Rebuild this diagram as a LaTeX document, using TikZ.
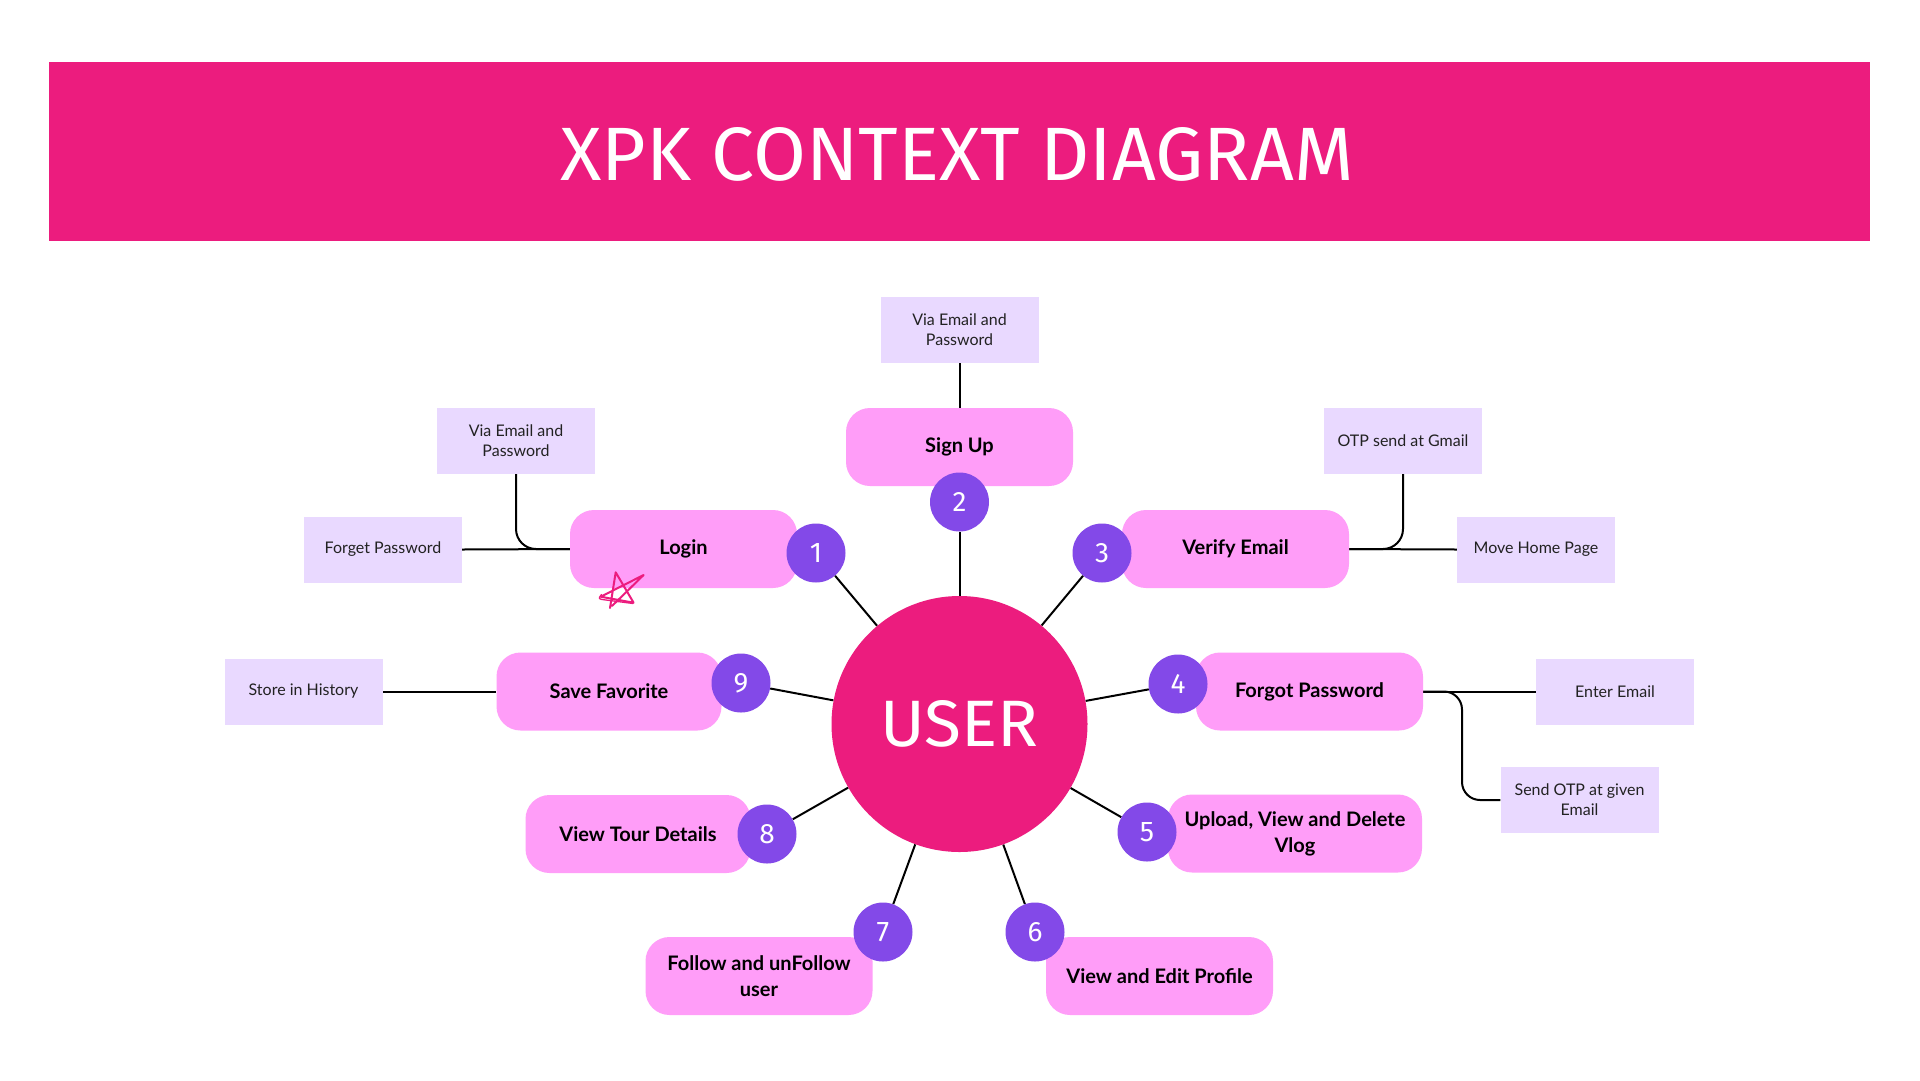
\documentclass[tikz,border=0pt]{standalone}
\usepackage{fontspec}
\setmainfont{Lato}
\newfontfamily\titlefont{Fira Sans}
\usetikzlibrary{backgrounds}
\definecolor{banner}{RGB}{236,28,126}
\definecolor{pinkbox}{RGB}{255,157,248}
\definecolor{purp}{RGB}{131,73,232}
\definecolor{lav}{RGB}{233,217,255}
\definecolor{notetext}{RGB}{34,34,34}
\newcommand\numtxt[1]{\resizebox{!}{19pt}{\titlefont #1}}
\begin{document}
\begin{tikzpicture}[x=1pt,y=-1pt,
  proc/.style={fill=pinkbox, rounded corners=24pt, minimum width=227pt, minimum height=78pt, inner sep=0pt, align=center, font=\fontsize{20}{26}\selectfont\bfseries},
  num/.style={circle, fill=purp, minimum size=59pt, inner sep=0pt, text=white},
  note/.style={fill=lav, minimum width=158pt, minimum height=66pt, inner sep=0pt, align=center, font=\fontsize{16}{20}\selectfont, text=notetext},
  link/.style={line width=2pt, black}]
\useasboundingbox (0,0) rectangle (1920,1080);

% banner
\fill[banner] (49,62) rectangle (1870,241);
\node[inner sep=0pt, text=white] (title) at (957,154.5) {\resizebox{793pt}{53pt}{\titlefont XPK CONTEXT DIAGRAM}};

% centre
\node[circle, fill=banner, minimum size=256pt, inner sep=0pt, text=white] (user) at (959.5,724) {\resizebox{158pt}{46pt}{\titlefont USER}};

% process boxes
\node[proc] (signup) at (959.5,447) {Sign Up};
\node[proc] (login) at (683.5,549) {Login};
\node[proc] (verify) at (1235.5,549) {Verify Email};
\node[proc] (forgot) at (1309.5,691.5) {Forgot Password};
\node[proc, minimum width=254pt] (upload) at (1295,833.5) {Upload, View and Delete\\Vlog};
\node[proc] (profile) at (1159.5,976) {View and Edit Profile};
\node[proc] (follow) at (759,976) {Follow and unFollow\\user};
\node[proc, minimum width=225pt] (tour) at (638,834) {View Tour Details};
\node[proc, minimum width=225pt] (fav) at (609,691.5) {Save Favorite};

% numbered circles
\node[num] (c1) at (816,553) {\numtxt{1}};
\node[num] (c2) at (959.5,502) {\numtxt{2}};
\node[num] (c3) at (1102,553) {\numtxt{3}};
\node[num] (c4) at (1178,684) {\numtxt{4}};
\node[num] (c5) at (1147,832) {\numtxt{5}};
\node[num] (c6) at (1035,932) {\numtxt{6}};
\node[num] (c7) at (883,932) {\numtxt{7}};
\node[num] (c8) at (767,834) {\numtxt{8}};
\node[num] (c9) at (741,683) {\numtxt{9}};

% notes
\node[note] (sunote) at (959.5,329.5) {Via Email and\\Password};
\node[note] (lnote) at (516,441) {Via Email and\\Password};
\node[note] (fpw) at (383,549.5) {Forget Password};
\node[note] (otp) at (1403,441) {OTP send at Gmail};
\node[note] (home) at (1536,549.5) {Move Home Page};
\node[note] (enter) at (1615,691.5) {Enter Email};
\node[note] (sendotp) at (1579.5,800) {Send OTP at given\\Email};
\node[note] (hist) at (303.5,691.5) {Store in History};

\coordinate (fb) at (1462,691.5);

% connectors
\begin{scope}[on background layer]
\fill[white] (0,0) rectangle (1920,1080);
\draw[link] (sunote) -- (signup);
\draw[link] (c2) -- (user);
\draw[link] (c1) -- (user);
\draw[link] (c3) -- (user);
\draw[link] (c4) -- (user);
\draw[link] (c5) -- (user);
\draw[link] (c6) -- (user);
\draw[link] (c7) -- (user);
\draw[link] (c8) -- (user);
\draw[link] (c9) -- (user);
\draw[link, rounded corners=20pt] (lnote.south) |- (login.west);
\draw[link] (fpw.east) -- (login.west);
\draw[link, rounded corners=20pt] (otp.south) |- (verify.east);
\draw[link] (verify.east) -- (home.west);
\draw[link] (forgot.east) -- (enter.west);
\draw[link, rounded corners=18pt] (forgot.east) -- (fb) |- (sendotp.west);
\draw[link] (hist.east) -- (fav.west);
\end{scope}

% hand-drawn star
\draw[banner, line width=2pt, line join=round, line cap=round]
  (610,608) -- (615.7,572.3) -- (633.6,602.7) -- (600.7,596.7) -- (643.6,575) -- (612,606);
\draw[banner, line width=1.3pt, line join=round, line cap=round]
  (601.5,594.5) .. controls (598,599) .. (606,600) -- (633,603.5);
\end{tikzpicture}
\end{document}
